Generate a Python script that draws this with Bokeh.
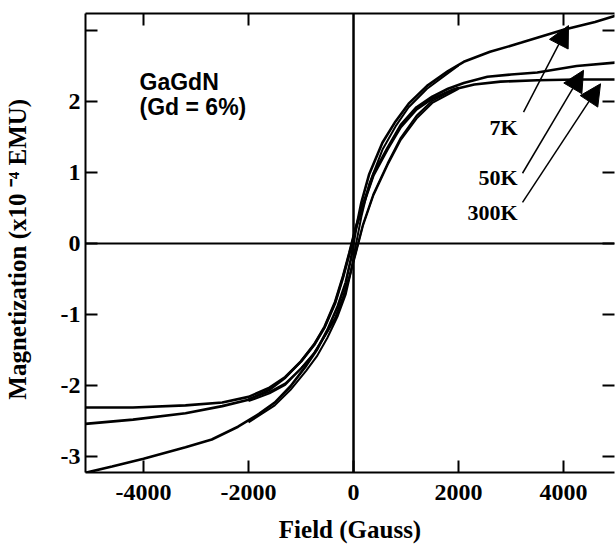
from bokeh.plotting import figure
from bokeh.models import Range1d, LinearAxis, FixedTicker, Span, Arrow, NormalHead, Label
from bokeh.embed import file_html
from bokeh.resources import INLINE

# ---- data ----
# descending-field branches
field_7k = [-5110, -4600, -4000, -3200, -2700, -2200, -1800, -1500, -1200, -900, -700, -500, -300,
            -150, -50, 50, 150, 300, 550, 800, 1050, 1400, 1800, 2100, 2600, 3200, 4000, 4600, 5000]
mag_7k = [-3.23, -3.14, -3.03, -2.87, -2.76, -2.58, -2.40, -2.24, -2.01, -1.72, -1.50, -1.22, -0.88,
          -0.55, -0.22, 0.22, 0.58, 0.98, 1.42, 1.72, 1.97, 2.22, 2.43, 2.56, 2.70, 2.83, 3.01, 3.12, 3.21]

field_50k = [-5110, -4200, -3200, -2500, -2000, -1600, -1300, -1000, -750, -550, -350, -200, -80,
             40, 180, 380, 650, 900, 1200, 1500, 1800, 2100, 2550, 3000, 3500, 4250, 5000]
mag_50k = [-2.54, -2.48, -2.39, -2.29, -2.20, -2.06, -1.89, -1.66, -1.42, -1.17, -0.82, -0.46, -0.13,
           0.22, 0.55, 0.98, 1.35, 1.67, 1.92, 2.07, 2.18, 2.26, 2.35, 2.38, 2.41, 2.50, 2.55]

field_300k = [-5110, -4200, -3200, -2500, -2000, -1600, -1300, -1000, -750, -550, -350, -200, -80,
              40, 180, 380, 650, 900, 1200, 1500, 1900, 2300, 2800, 3500, 4250, 5000]
mag_300k = [-2.31, -2.31, -2.28, -2.24, -2.16, -2.03, -1.88, -1.66, -1.43, -1.18, -0.84, -0.48, -0.15,
            0.20, 0.53, 0.96, 1.33, 1.64, 1.89, 2.04, 2.17, 2.24, 2.28, 2.30, 2.31, 2.31]

# ascending-field (return) branches, visible near the origin
field_7k_ret = [-2000, -1500, -1200, -900, -700, -500, -300, -150, -50, 50, 150, 300, 550, 800,
                1050, 1400, 2000]
mag_7k_ret = [-2.52, -2.28, -2.06, -1.79, -1.59, -1.33, -1.02, -0.72, -0.40, 0.00, 0.38, 0.84,
              1.32, 1.65, 1.92, 2.18, 2.51]

field_50k_ret = [-2000, -1600, -1300, -1000, -750, -550, -350, -200, -80, 40, 180, 380, 650, 900,
                 1200, 1500, 2000]
mag_50k_ret = [-2.22, -2.11, -1.99, -1.76, -1.54, -1.30, -1.05, -0.75, -0.46, -0.13, 0.27, 0.70,
               1.13, 1.49, 1.80, 2.01, 2.20]

field_300k_ret = [-2000, -1600, -1300, -1000, -750, -550, -350, -200, -80, 40, 180, 380, 650, 900,
                  1200, 1500, 2000]
mag_300k_ret = [-2.19, -2.09, -1.97, -1.76, -1.55, -1.31, -1.06, -0.77, -0.48, -0.15, 0.25, 0.68,
                1.11, 1.46, 1.76, 1.98, 2.18]

x_ticks = [-4000, -2000, 0, 2000, 4000]
x_tick_labels = {-4000: "-4000", -2000: "-2000", 0: "0", 2000: "2000", 4000: "4000"}
y_ticks = [-3, -2, -1, 0, 1, 2, 3]
y_tick_labels = {-3: "-3", -2: "-2", -1: "-1", 0: "0", 1: "1", 2: "2", 3: ""}

temp_labels = ["7K", "50K", "300K"]
label_pos = [(3124, 1.63), (3124, 0.93), (3124, 0.44)]
arrow_pos = [(3238, 1.85, 4095, 3.07), (3219, 0.99, 4381, 2.44), (3219, 0.58, 4705, 2.25)]

SERIF = "Liberation Serif"

p = figure(width=615, height=553, output_backend="svg", toolbar_location=None,
           x_range=Range1d(-5105, 4971), y_range=Range1d(-3.225, 3.24),
           min_border_left=85, min_border_right=1, min_border_top=13, min_border_bottom=81,
           x_axis_label="Field (Gauss)", y_axis_label="Magnetization (x10  \u207b\u2074  EMU)")
p.grid.visible = False
p.outline_line_color = None
p.background_fill_color = "white"
p.border_fill_color = "white"


def style(ax, ticks):
    ax.ticker = FixedTicker(ticks=ticks)
    ax.major_tick_in = 12
    ax.major_tick_out = 0
    ax.minor_tick_in = 0
    ax.minor_tick_out = 0
    ax.axis_line_color = "black"
    ax.axis_line_width = 2
    ax.major_tick_line_color = "black"
    ax.major_tick_line_width = 2
    ax.major_label_text_font = SERIF
    ax.major_label_text_font_style = "bold"
    ax.major_label_text_font_size = "24px"
    ax.major_label_text_color = "black"
    ax.axis_label_text_font = SERIF
    ax.axis_label_text_font_style = "bold"
    ax.axis_label_text_font_size = "25px"
    ax.axis_label_text_color = "black"


style(p.xaxis[0], x_ticks)
style(p.yaxis[0], y_ticks)
p.xaxis[0].major_label_overrides = x_tick_labels
p.yaxis[0].major_label_overrides = y_tick_labels
p.xaxis[0].major_label_standoff = 12
p.xaxis[0].axis_label_standoff = 13
p.yaxis[0].major_label_standoff = 5
p.yaxis[0].axis_label_standoff = 27

right = LinearAxis()
style(right, y_ticks)
right.axis_line_color = None
right.major_label_text_font_size = "1px"
right.major_label_text_color = None
right.major_label_standoff = 0
p.add_layout(right, "right")

top = LinearAxis()
style(top, [-4000, -2000, 2000, 4000])
top.major_label_text_font_size = "1px"
top.major_label_text_color = None
top.major_label_standoff = 0
p.add_layout(top, "above")

p.add_layout(Span(location=0, dimension="height", line_color="black", line_width=2.5))
p.add_layout(Span(location=0, dimension="width", line_color="black", line_width=2))

for f, m in [(field_7k, mag_7k), (field_50k, mag_50k), (field_300k, mag_300k)]:
    p.line(f, m, line_color="black", line_width=2.6)
for f, m in [(field_7k_ret, mag_7k_ret), (field_50k_ret, mag_50k_ret), (field_300k_ret, mag_300k_ret)]:
    p.line(f, m, line_color="black", line_width=2.0)

for txt, (lx, ly) in zip(temp_labels, label_pos):
    p.add_layout(Label(x=lx, y=ly, text=txt, text_align="right", text_baseline="alphabetic",
                       text_font=SERIF, text_font_style="bold", text_font_size="22px",
                       text_color="black"))

for (xs, ys, xe, ye) in arrow_pos:
    p.add_layout(Arrow(end=NormalHead(size=21, fill_color="black", line_color="black"),
                       x_start=xs, y_start=ys, x_end=xe, y_end=ye,
                       line_color="black", line_width=1.5))

p.add_layout(Label(x=-4076, y=2.27, text="GaGdN", text_font="Liberation Sans",
                   text_font_style="bold", text_font_size="23px", text_color="black",
                   text_baseline="alphabetic"))
p.add_layout(Label(x=-4076, y=1.92, text="(Gd = 6%)", text_font="Liberation Sans",
                   text_font_style="bold", text_font_size="23px", text_color="black",
                   text_baseline="alphabetic"))

open("out.html", "w").write(file_html(p, INLINE))
